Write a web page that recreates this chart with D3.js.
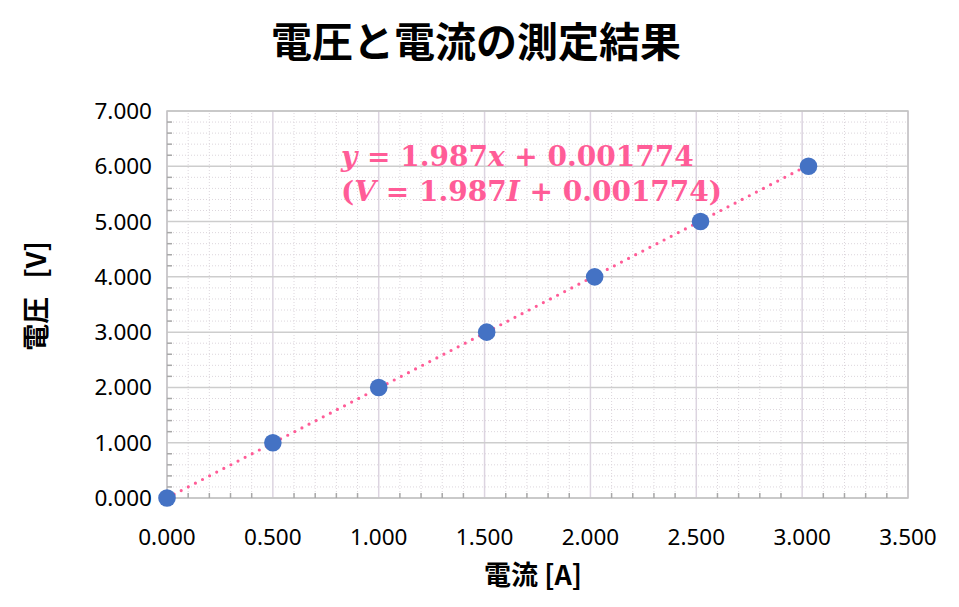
<!DOCTYPE html>
<html>
<head>
<meta charset="utf-8">
<script src="https://cdn.jsdelivr.net/npm/d3@7"></script>
<style>
  body { margin: 0; background: #fff; }
  text { font-family: "Noto Sans", "Noto Sans CJK JP", sans-serif; }
</style>
</head>
<body>
<svg width="959" height="607"></svg>
<script>
// measured current (A) and voltage (V)
var current = [0, 0.50, 1.00, 1.51, 2.02, 2.52, 3.03];
var voltage = [0, 1, 2, 3, 4, 5, 6];

// trendline as shown in the chart
var slope = 1.987;
var intercept = 0.001774;

var xTicks = [0, 0.5, 1, 1.5, 2, 2.5, 3, 3.5];
var yTicks = [0, 1, 2, 3, 4, 5, 6, 7];

var svg = d3.select("svg");

var x = d3.scaleLinear().domain([0, 3.5]).range([167, 908]);
var y = d3.scaleLinear().domain([0, 7]).range([498, 111]);

var fmt = d3.format(".3f");

// minor grid
var xMinor = d3.range(0, 3.5001, 0.1).filter(v => Math.abs(v * 2 - Math.round(v * 2)) > 0.01);
var yMinor = d3.range(0, 7.0001, 0.2).filter(v => Math.abs(v - Math.round(v)) > 0.01);

svg.append("g").selectAll("line").data(xMinor).join("line")
    .attr("x1", d => x(d)).attr("x2", d => x(d))
    .attr("y1", y(0)).attr("y2", y(7))
    .attr("stroke", "#dcd6dc").attr("stroke-dasharray", "1,2");

svg.append("g").selectAll("line").data(yMinor).join("line")
    .attr("x1", x(0)).attr("x2", x(3.5))
    .attr("y1", d => y(d)).attr("y2", d => y(d))
    .attr("stroke", "#dcd6dc").attr("stroke-dasharray", "1,2");

// major grid
svg.append("g").selectAll("line").data(xTicks).join("line")
    .attr("x1", d => x(d)).attr("x2", d => x(d))
    .attr("y1", y(0)).attr("y2", y(7))
    .attr("stroke", "#dcd4e0").attr("stroke-width", 1.5);

svg.append("g").selectAll("line").data(yTicks).join("line")
    .attr("x1", x(0)).attr("x2", x(3.5))
    .attr("y1", d => y(d)).attr("y2", d => y(d))
    .attr("stroke", "#cdcdcd").attr("stroke-width", 1.5);

// plot border
svg.append("rect")
    .attr("x", x(0)).attr("y", y(7))
    .attr("width", x(3.5) - x(0)).attr("height", y(0) - y(7))
    .attr("fill", "none").attr("stroke", "#c4c4c4").attr("stroke-width", 1.5);

// minor tick marks (inside)
svg.append("g").selectAll("line").data(yMinor).join("line")
    .attr("x1", x(0)).attr("x2", x(0) + 5)
    .attr("y1", d => y(d)).attr("y2", d => y(d))
    .attr("stroke", "#a8a8a8").attr("stroke-width", 1.5);

svg.append("g").selectAll("line").data(xMinor).join("line")
    .attr("x1", d => x(d)).attr("x2", d => x(d))
    .attr("y1", y(0)).attr("y2", y(0) - 5)
    .attr("stroke", "#a8a8a8").attr("stroke-width", 1.5);

// tick labels
svg.append("g").selectAll("text").data(yTicks).join("text")
    .attr("x", 152).attr("y", d => y(d) + 8)
    .attr("text-anchor", "end")
    .attr("font-size", 22.5).attr("fill", "#000")
    .text(d => fmt(d));

svg.append("g").selectAll("text").data(xTicks).join("text")
    .attr("x", d => x(d)).attr("y", 545)
    .attr("text-anchor", "middle")
    .attr("font-size", 22.5).attr("fill", "#000")
    .text(d => fmt(d));

// trendline
var xMax = d3.max(current);
svg.append("line")
    .attr("x1", x(0)).attr("y1", y(intercept))
    .attr("x2", x(xMax)).attr("y2", y(slope * xMax + intercept))
    .attr("stroke", "#ff5c97").attr("stroke-width", 3.2)
    .attr("stroke-linecap", "round").attr("stroke-dasharray", "0,8");

// points
svg.append("g").selectAll("circle").data(current).join("circle")
    .attr("cx", d => x(d))
    .attr("cy", (d, i) => y(voltage[i]))
    .attr("r", 8.8)
    .attr("fill", "#4472c4");

// trendline equation
var eq = svg.append("g")
    .attr("fill", "#ff5c97")
    .attr("font-weight", "bold")
    .attr("font-size", 28);

var l1 = eq.append("text").attr("x", 341).attr("y", 166)
    .style("font-family", "'DejaVu Serif', serif");
l1.append("tspan").attr("font-style", "italic").text("y");
l1.append("tspan").text(" = " + slope + "");
l1.append("tspan").attr("font-style", "italic").text("x");
l1.append("tspan").text(" + " + intercept);

var l2 = eq.append("text").attr("x", 341).attr("y", 201)
    .style("font-family", "'DejaVu Serif', serif");
l2.append("tspan").text("(");
l2.append("tspan").attr("font-style", "italic").text("V");
l2.append("tspan").text(" = " + slope);
l2.append("tspan").attr("font-style", "italic").text("I");
l2.append("tspan").text(" + " + intercept + ")");

// titles
svg.append("text")
    .attr("x", 476).attr("y", 57)
    .attr("text-anchor", "middle")
    .attr("font-size", 41).attr("font-weight", "bold")
    .style("font-family", "'Noto Sans CJK JP', sans-serif")
    .text("電圧と電流の測定結果");

svg.append("text")
    .attr("x", 533).attr("y", 585)
    .attr("text-anchor", "middle")
    .attr("font-size", 27).attr("font-weight", "bold")
    .style("font-family", "'Noto Sans CJK JP', sans-serif")
    .text("電流 [A]");

var yt = svg.append("text")
    .attr("transform", "translate(46,296) rotate(-90)")
    .attr("text-anchor", "middle")
    .attr("font-size", 27).attr("font-weight", "bold")
    .style("font-family", "'Noto Sans CJK JP', sans-serif");
yt.append("tspan").text("電圧 ");
yt.append("tspan").attr("dx", 12).text("[V]");
</script>
</body>
</html>
